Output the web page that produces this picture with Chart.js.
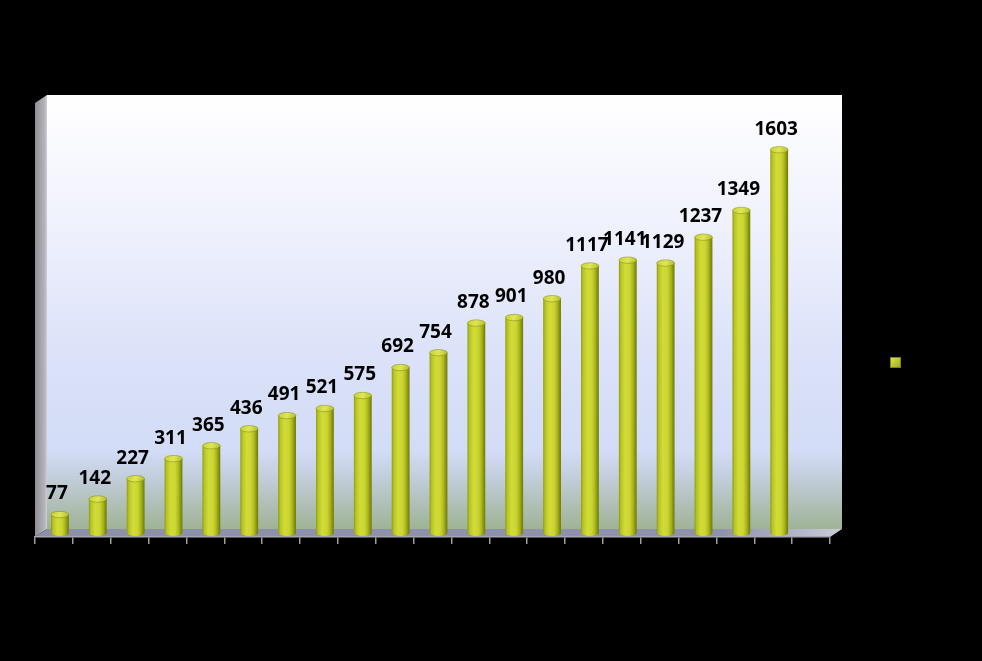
<!DOCTYPE html>
<html>
<head>
<meta charset="utf-8">
<script src="https://cdn.jsdelivr.net/npm/chart.js@4.4.0/dist/chart.umd.min.js"></script>
<style>
html,body{margin:0;padding:0;background:#000;}
#wrap{width:982px;height:661px;position:relative;}
</style>
</head>
<body>
<div id="wrap"><canvas id="c" width="982" height="661"></canvas></div>
<script>
const categories = ['1','2','3','4','5','6','7','8','9','10','11','12','13','14','15','16','17','18','19','20',''];
const values = [77,142,227,311,365,436,491,521,575,692,754,878,901,980,1117,1141,1129,1237,1349,1603,null];
const seriesName = 'Serie 1';
const yMin = 0, yMax = 1815;

const DX = 6, DY = -4;   // bars sit halfway into the 3D depth
const WX = 12, WY = -8;  // full depth of the back wall

function barGradient(ctx, x, w) {
  const g = ctx.createLinearGradient(x - w/2, 0, x + w/2, 0);
  g.addColorStop(0, '#8e9a14');
  g.addColorStop(0.12, '#b8c422');
  g.addColorStop(0.35, '#d2dc38');
  g.addColorStop(0.6, '#ccd632');
  g.addColorStop(0.78, '#adb81e');
  g.addColorStop(0.9, '#88940f');
  g.addColorStop(1, '#6d780a');
  return g;
}

const scene3d = {
  id: 'scene3d',
  beforeDraw(chart) {
    const ctx = chart.ctx, a = chart.chartArea;
    ctx.save();
    ctx.fillStyle = '#000';
    ctx.fillRect(0, 0, chart.width, chart.height);
    const bx = a.left + WX, by = a.top + WY, bw = a.right - a.left, bh = a.bottom - a.top;
    const g = ctx.createLinearGradient(0, by, 0, by + bh);
    g.addColorStop(0, '#ffffff');
    g.addColorStop(0.3, '#eff1fc');
    g.addColorStop(0.6, '#dbe2f9');
    g.addColorStop(0.82, '#d3dcf6');
    g.addColorStop(0.88, '#c2cedc');
    g.addColorStop(1, '#9fb395');
    ctx.fillStyle = g;
    ctx.fillRect(bx, by, bw, bh);
    const lg = ctx.createLinearGradient(a.left, 0, a.left + WX, 0);
    lg.addColorStop(0, '#8e8e94');
    lg.addColorStop(0.8, '#b4b4ba');
    lg.addColorStop(1, '#d0d0d6');
    ctx.fillStyle = lg;
    ctx.beginPath();
    ctx.moveTo(a.left, a.bottom);
    ctx.lineTo(a.left, a.top);
    ctx.lineTo(a.left + WX, a.top + WY);
    ctx.lineTo(a.left + WX, a.bottom + WY);
    ctx.closePath();
    ctx.fill();
    const fg = ctx.createLinearGradient(a.left, 0, a.right + WX, 0);
    fg.addColorStop(0, '#8c90aa');
    fg.addColorStop(0.85, '#8e92ae');
    fg.addColorStop(0.95, '#b4b8cc');
    fg.addColorStop(1, '#c8ccd8');
    ctx.fillStyle = fg;
    ctx.beginPath();
    ctx.moveTo(a.left, a.bottom);
    ctx.lineTo(a.right, a.bottom);
    ctx.lineTo(a.right + WX, a.bottom + WY);
    ctx.lineTo(a.left + WX, a.bottom + WY);
    ctx.closePath();
    ctx.fill();
    const lx = 890, ly = 357, ls = 11;
    const sg = ctx.createLinearGradient(lx, ly, lx + ls, ly + ls);
    sg.addColorStop(0, '#e4ec4c');
    sg.addColorStop(1, '#9aa416');
    ctx.fillStyle = sg;
    ctx.fillRect(lx, ly, ls, ls);
    ctx.strokeStyle = '#7a8410';
    ctx.lineWidth = 1;
    ctx.strokeRect(lx + 0.5, ly + 0.5, ls - 1, ls - 1);
    ctx.restore();
  },
  beforeDatasetsDraw(chart) {
    const ctx = chart.ctx;
    ctx.save();
    ctx.translate(DX, DY);
  },
  afterDatasetsDraw(chart) {
    const ctx = chart.ctx;
    const meta = chart.getDatasetMeta(0);
    meta.data.forEach((bar, i) => {
      const v = chart.data.datasets[0].data[i];
      if (v == null) return;
      const w = bar.width, x = bar.x, y = bar.y, base = bar.base;
      if (![w, x, y, base].every(Number.isFinite)) return;
      ctx.fillStyle = barGradient(ctx, x, w);
      ctx.beginPath();
      ctx.ellipse(x, base, w/2, 3, 0, 0, Math.PI);
      ctx.fill();
      const tg = ctx.createLinearGradient(x - w/2, y - 3, x + w/2, y + 3);
      tg.addColorStop(0, '#c6d02c');
      tg.addColorStop(0.5, '#dfe65a');
      tg.addColorStop(1, '#b0bb22');
      ctx.fillStyle = tg;
      ctx.beginPath();
      ctx.ellipse(x, y, w/2, 3.2, 0, 0, Math.PI * 2);
      ctx.fill();
      ctx.strokeStyle = 'rgba(120,130,10,0.6)';
      ctx.lineWidth = 0.8;
      ctx.stroke();
      ctx.fillStyle = '#000';
      ctx.font = 'bold 19px "Open Sans", "Liberation Sans", sans-serif';
      ctx.textAlign = 'center';
      ctx.textBaseline = 'bottom';
      ctx.fillText(String(v), x - 3, y - 11);
    });
    ctx.restore();
  }
};

new Chart(document.getElementById('c'), {
  type: 'bar',
  data: {
    labels: categories,
    datasets: [{
      label: seriesName,
      data: values,
      borderWidth: 0,
      backgroundColor(ctx) {
        const chart = ctx.chart;
        const xs = chart.scales && chart.scales.x;
        if (!xs || ctx.dataIndex == null) return '#c8d42e';
        const x = xs.getPixelForValue(ctx.dataIndex);
        if (!Number.isFinite(x)) return '#c8d42e';
        return barGradient(chart.ctx, x, 18);
      }
    }]
  },
  options: {
    responsive: false,
    animation: false,
    devicePixelRatio: 1,
    layout: { padding: { left: 35, top: 103, right: 152, bottom: 0 } },
    plugins: { legend: { display: false }, tooltip: { enabled: false } },
    datasets: { bar: { barPercentage: 0.47, categoryPercentage: 1.0 } },
    scales: {
      x: {
        grid: { display: true, drawOnChartArea: false, drawTicks: true, tickLength: 7, color: '#9c9ca4', lineWidth: 1.5, offset: true },
        border: { display: true, color: '#a6a6b0', width: 1.5 },
        ticks: { display: false },
        afterFit(scale) { scale.height = 124; }
      },
      y: {
        display: false,
        min: yMin,
        max: yMax
      }
    }
  },
  plugins: [scene3d]
});
</script>
</body>
</html>
